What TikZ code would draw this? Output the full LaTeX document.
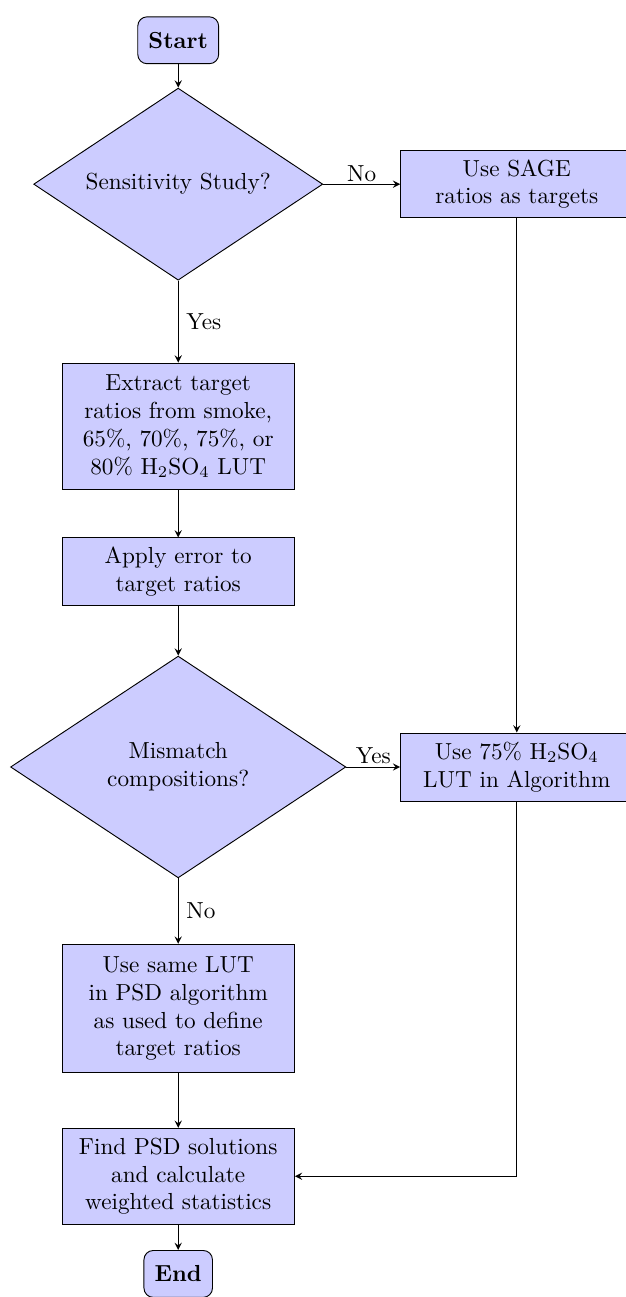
\documentclass[tikz,border=0pt]{standalone}
\usepackage{tikz}
\usetikzlibrary{shapes.geometric,arrows}

\begin{document}
\begin{tikzpicture}[
  startstop/.style={draw, fill=blue!20, rounded corners, inner xsep=4.6pt, minimum height=0.71cm},
  process/.style={draw, fill=blue!20, rectangle, align=center, minimum width=3.52cm},
  decision/.style={draw, fill=blue!20, diamond, aspect=1.5, align=center, inner sep=1pt},
  lbl/.style={inner sep=1pt},
  >=stealth]
  \useasboundingbox (0,0) rectangle (9.47,-19.65);
  \node (start) [startstop] at (2.7,-0.61) {\textbf{Start}};
  \node (dec1) [decision, minimum width=4.38cm, minimum height=2.91cm] at (2.7,-2.79) {Sensitivity Study?};
  \node (sage) [process, minimum height=1.02cm] at (7.83,-2.79) {Use SAGE\\ ratios as targets};
  \node (extract) [process, minimum height=1.92cm] at (2.7,-6.46) {Extract target\\ ratios from smoke,\\ 65\%, 70\%, 75\%, or\\ 80\% H$_2$SO$_4$ LUT};
  \node (apply) [process, minimum height=1.02cm] at (2.7,-8.66) {Apply error to\\ target ratios};
  \node (dec2) [decision, minimum width=5.08cm, minimum height=3.36cm] at (2.7,-11.62) {Mismatch\\ compositions?};
  \node (use75) [process, minimum height=1.03cm] at (7.83,-11.62) {Use 75\% H$_2$SO$_4$\\ LUT in Algorithm};
  \node (same) [process, minimum height=1.95cm] at (2.7,-15.28) {Use same LUT\\ in PSD algorithm\\ as used to define\\ target ratios};
  \node (find) [process, minimum height=1.45cm] at (2.7,-17.82) {Find PSD solutions\\ and calculate\\ weighted statistics};
  \node (end) [startstop] at (2.7,-19.30) {\textbf{End}};
  \path[->]
  (start) edge (dec1)
  (dec1) edge node [above, lbl] {No} (sage)
  (dec1) edge node [right] {Yes} (extract)
  (extract) edge (apply)
  (apply) edge (dec2)
  (dec2) edge node [above, lbl] {Yes} (use75)
  (sage) edge (use75)
  (dec2) edge node [right] {No} (same)
  (same) edge (find)
  (find) edge (end)
  ;
  \draw[->] (use75) |- (find);
\end{tikzpicture}
\end{document}
